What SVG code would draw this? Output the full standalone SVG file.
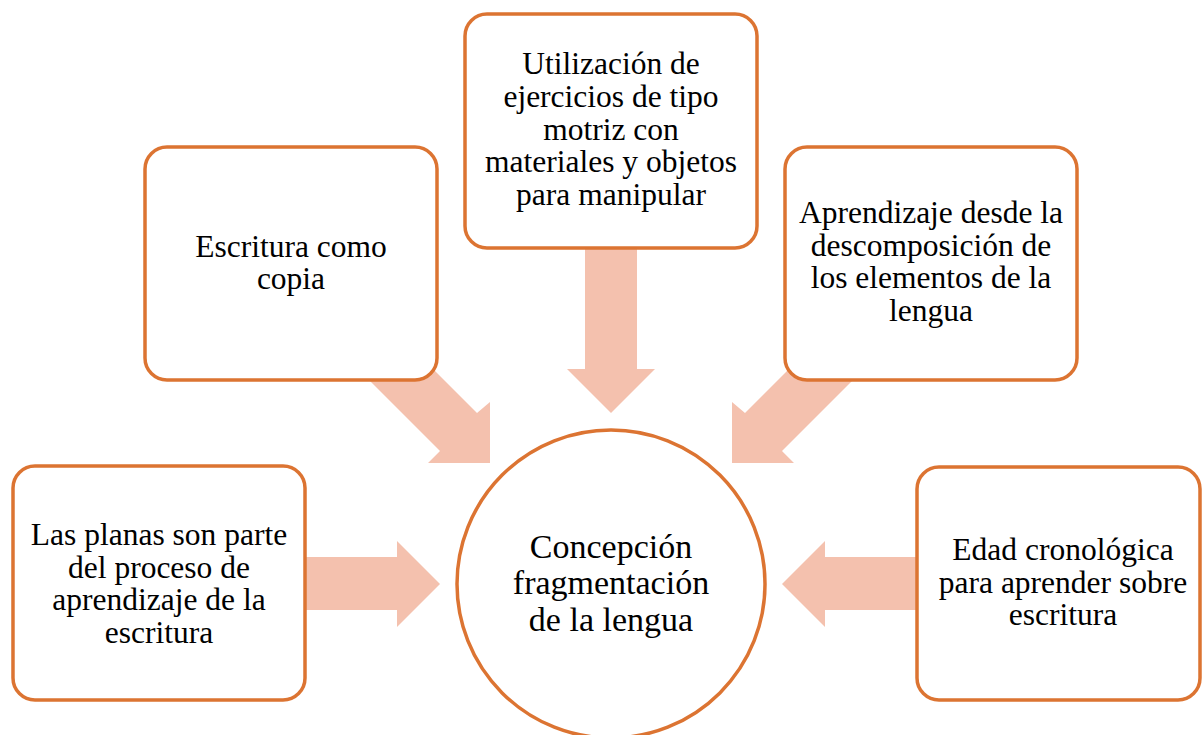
<svg xmlns="http://www.w3.org/2000/svg" width="1202" height="735" viewBox="0 0 1202 735">
<style>
.box{fill:#ffffff;stroke:#DC7432;stroke-width:3.5}
.arr{fill:#F4C1AE;stroke:none}
.t{font-family:"Liberation Serif","Times New Roman",serif;font-size:31.5px;fill:#000;text-anchor:middle}
.tc{font-family:"Liberation Serif","Times New Roman",serif;font-size:34px;fill:#000;text-anchor:middle}
</style>
<rect width="1202" height="735" fill="#ffffff"/>
<g id="connectors">
<polygon class="arr" points="357,293 477,413 490,402 490,463 428,463 440,451 320,331"/>
<polygon class="arr" points="585,240 637,240 637,369 655,369 611,413 567,369 585,369"/>
<polygon class="arr" points="865,293 745,413 732,402 732,463 794,463 782,451 902,331"/>
<polygon class="arr" points="300,557 397,557 397,541 440,584 397,627 397,610 300,610"/>
<polygon class="arr" points="922,557 825,557 825,541 782,584 825,627 825,610 922,610"/>
</g>
<g id="node-escritura-copia">
<rect class="box" x="145" y="147" width="292" height="233" rx="22"/>
<text class="t" x="291" y="257">Escritura como</text>
<text class="t" x="291" y="289">copia</text>
</g>
<g id="node-utilizacion">
<rect class="box" x="465" y="14" width="292" height="234" rx="22"/>
<text class="t" x="611" y="74">Utilización de</text>
<text class="t" x="611" y="107">ejercicios de tipo</text>
<text class="t" x="611" y="140">motriz con</text>
<text class="t" x="611" y="172">materiales y objetos</text>
<text class="t" x="611" y="205">para manipular</text>
</g>
<g id="node-aprendizaje">
<rect class="box" x="785" y="147" width="292" height="233" rx="22"/>
<text class="t" x="931" y="223">Aprendizaje desde la</text>
<text class="t" x="931" y="256">descomposición de</text>
<text class="t" x="931" y="288">los elementos de la</text>
<text class="t" x="931" y="321">lengua</text>
</g>
<g id="node-planas">
<rect class="box" x="13" y="466" width="292" height="234" rx="22"/>
<text class="t" x="159" y="545">Las planas son parte</text>
<text class="t" x="159" y="578">del proceso de</text>
<text class="t" x="159" y="610">aprendizaje de la</text>
<text class="t" x="159" y="643">escritura</text>
</g>
<g id="node-edad">
<rect class="box" x="917" y="467" width="283" height="233" rx="22"/>
<text class="t" x="1063" y="560">Edad cronológica</text>
<text class="t" x="1063" y="593">para aprender sobre</text>
<text class="t" x="1063" y="625">escritura</text>
</g>
<g id="node-concepcion">
<circle class="box" cx="611" cy="584" r="154"/>
<text class="tc" x="611" y="558">Concepción</text>
<text class="tc" x="611" y="594">fragmentación</text>
<text class="tc" x="611" y="631">de la lengua</text>
</g>
</svg>
